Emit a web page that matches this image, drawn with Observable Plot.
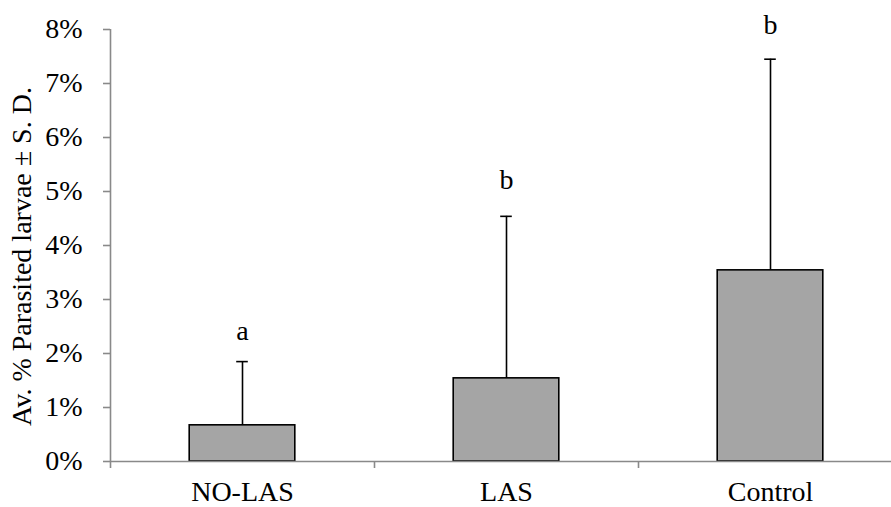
<!DOCTYPE html>
<html>
<head>
<meta charset="utf-8">
<script src="https://cdn.jsdelivr.net/npm/d3@7"></script>
<script src="https://cdn.jsdelivr.net/npm/@observablehq/plot@0.6"></script>
<style>html, body { margin: 0; background: #fff; }</style>
</head>
<body>
<div id="chart"></div>
<script>
// Data
const categories = ["NO-LAS", "LAS", "Control"];
const means = [0.0067, 0.0154, 0.0354];          // average % parasited larvae
const sds = [0.0118, 0.0300, 0.0391];            // standard deviation (plus side)
const letters = ["a", "b", "b"];                 // significance letters
const letterY = [0.0241, 0.0522, 0.0809];        // letter vertical positions (data units)
const yTicks = [0, 0.01, 0.02, 0.03, 0.04, 0.05, 0.06, 0.07, 0.08];
const yLabel = "Av. % Parasited larvae \u00b1 S. D.";

const rows = categories.map((c, i) => ({cat: c, mean: means[i], top: means[i] + sds[i], letter: letters[i], ly: letterY[i]}));

const xRange = [110, 902];
const step = (xRange[1] - xRange[0]) / categories.length;
const serif = "Times New Roman";
const axisGray = "#898989";

const chart = Plot.plot({
  width: 891,
  height: 507,
  marginLeft: 110,
  marginRight: 0,
  marginTop: 29,
  marginBottom: 46,
  style: {"font-family": serif, "font-size": "28px"},
  x: {domain: categories, range: xRange, paddingInner: 0.6, paddingOuter: 0.3, round: false, label: null},
  y: {domain: [0, 0.08], label: null},
  marks: [
    Plot.barY(rows, {x: "cat", y: "mean", fill: "#a5a5a5", stroke: "#000", strokeWidth: 1.6}),
    Plot.ruleX(rows, {x: "cat", y1: "mean", y2: "top", stroke: "#000", strokeWidth: 1.6}),
    Plot.tickY(rows, {x: "cat", y: "top", stroke: "#000", strokeWidth: 1.6, insetLeft: 47, insetRight: 47}),
    Plot.ruleY([0], {stroke: axisGray, strokeWidth: 1.6}),
    Plot.ruleX([categories[0]], {x: d => d, y1: 0, y2: 0.08, dx: -step / 2, stroke: axisGray, strokeWidth: 1.6}),
    Plot.axisY({ticks: yTicks, tickSize: 7, text: null, stroke: axisGray, strokeWidth: 1.6, label: null}),
    Plot.axisY({ticks: yTicks, tickSize: 0, tickPadding: 28, tickFormat: d3.format(".0%"), fill: "#000", fontSize: 28, fontFamily: serif, label: null}),
    Plot.axisX({tickSize: 7, text: null, dx: -step / 2, stroke: axisGray, strokeWidth: 1.6, label: null}),
    Plot.axisX({tickSize: 0, tickPadding: 20, fill: "#000", fontSize: 28, fontFamily: serif, label: null}),
    Plot.text(rows, {x: "cat", y: "ly", text: "letter", fontSize: 28, fontFamily: serif, fill: "#000", lineAnchor: "middle"}),
    Plot.text([yLabel], {frameAnchor: "left", rotate: -90, dx: -88, dy: 11, fontSize: 28, fontFamily: serif, fill: "#000", textAnchor: "middle", lineAnchor: "middle"})
  ]
});
// force the serif face on every text element as an inline style
chart.style.fontFamily = "'Liberation Serif', 'Times New Roman', serif";
chart.querySelectorAll("text, g").forEach(el => {
  el.style.fontFamily = "'Liberation Serif', 'Times New Roman', serif";
});
document.getElementById("chart").appendChild(chart);
</script>
</body>
</html>
